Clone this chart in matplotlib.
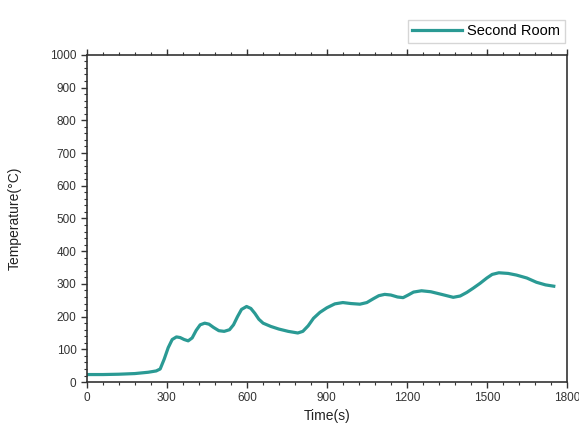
import matplotlib
matplotlib.use("Agg")
import matplotlib.pyplot as plt
from matplotlib.ticker import MultipleLocator

# Values
time_s = [0, 60, 120, 180, 230, 260, 275, 290, 305, 320, 336, 350, 365, 380, 395, 410, 425, 442,
          458, 475, 495, 515, 535, 550, 565, 580, 599, 615, 630, 645, 661, 690, 720, 755, 791,
          810, 830, 850, 874, 900, 930, 960, 990, 1024, 1050, 1075, 1095, 1117, 1140, 1165, 1186,
          1205, 1225, 1255, 1290, 1330, 1374, 1400, 1425, 1449, 1475, 1500, 1520, 1545, 1580,
          1611, 1650, 1686, 1720, 1751]
temp_c = [23, 23, 24, 26, 30, 34, 40, 70, 105, 130, 138, 136, 130, 126, 135, 158, 175, 180,
          177, 167, 157, 155, 160, 175, 200, 222, 231, 225, 210, 192, 180, 170, 162, 155, 150,
          155, 172, 195, 213, 227, 239, 243, 240, 238, 243, 255, 264, 268, 266, 260, 258,
          266, 275, 279, 276, 268, 259, 263, 274, 287, 302, 318, 329, 334, 332, 327, 318,
          305, 297, 293]

series_label = "Second Room"
line_color = "#2a9a94"

plt.rcParams["font.family"] = ["Liberation Sans", "DejaVu Sans"]

fig = plt.figure(figsize=(5.79, 4.25), dpi=100)
ax = fig.add_axes([0.150, 0.101, 0.829, 0.770])
ax.plot(time_s, temp_c, color=line_color, linewidth=2.3, label=series_label,
        solid_joinstyle="round")

ax.set_xlim(0, 1800)
ax.set_ylim(0, 1000)
ax.xaxis.set_major_locator(MultipleLocator(300))
ax.xaxis.set_minor_locator(MultipleLocator(60))
ax.yaxis.set_major_locator(MultipleLocator(100))
ax.yaxis.set_minor_locator(MultipleLocator(20))
ax.tick_params(axis="both", which="both", direction="out", labelsize=8.5, colors="#333333",
               top=True, right=False)
ax.tick_params(which="major", length=4, width=1)
ax.tick_params(which="minor", length=2, width=0.8)
for s in ax.spines.values():
    s.set_color("#333333")
    s.set_linewidth(1.2)

ax.set_xlabel("Time(s)", fontsize=10, color="#222222", labelpad=3)
ax.set_ylabel("Temperature(°C)", fontsize=10, color="#222222", labelpad=20)

fig.legend(loc="upper right", bbox_to_anchor=(0.988, 0.97), fontsize=10.5, frameon=True,
           fancybox=False, edgecolor="#cccccc", handlelength=3.4, borderpad=0.3,
           handletextpad=0.4)

fig.savefig("out.png", dpi=100)
